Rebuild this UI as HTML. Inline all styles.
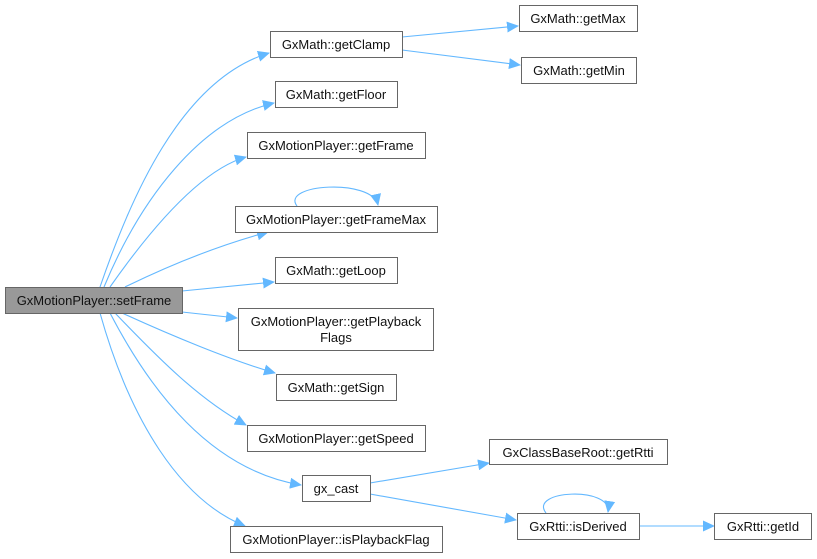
<!DOCTYPE html>
<html><head><meta charset="utf-8"><style>
html,body{margin:0;padding:0;background:#fff;width:817px;height:559px;overflow:hidden}
text{font-family:"Liberation Sans",sans-serif;font-size:13px;fill:#111}
</style></head><body>
<svg width="817" height="559" xmlns="http://www.w3.org/2000/svg">
<defs><marker id="a" markerWidth="12" markerHeight="11" refX="11" refY="5.5" orient="auto" markerUnits="userSpaceOnUse"><path d="M0,0 L12,5.5 L0,11 Z" fill="#63b8ff"/></marker></defs>
<g fill="none" stroke="#63b8ff" stroke-width="1.1" marker-end="url(#a)">
<path d="M100,287 C130,200 180,80 269,53"/>
<path d="M104,287 C140,200 200,120 274,103"/>
<path d="M110,287 C150,230 200,170 246,157"/>
<path d="M125,287 C170,265 220,245 268,232"/>
<path d="M182,291 L274,282"/>
<path d="M182,312 L237,318"/>
<path d="M122,313 C170,335 230,360 275,373"/>
<path d="M115,313 C160,360 200,400 246,425"/>
<path d="M110,313 C150,390 210,470 301,485"/>
<path d="M100,313 C130,420 180,500 245,526"/>
<path d="M402,37 L518,26"/>
<path d="M402,50 L520,65"/>
<path d="M370,483 L489,463"/>
<path d="M370,494 L516,520"/>
<path d="M640,526 L714,526"/>
<path d="M297,206 C280,184 372,178 378,205"/>
<path d="M546,513 C528,490 612,486 608,512"/>
</g>
<g fill="#fff" stroke="#666" stroke-width="1">
<rect x="5.5" y="287.5" width="177" height="26" fill="#999"/>
<rect x="270.5" y="31.5" width="132" height="26"/>
<rect x="275.5" y="81.5" width="122" height="26"/>
<rect x="247.5" y="132.5" width="178" height="26"/>
<rect x="235.5" y="206.5" width="202" height="26"/>
<rect x="275.5" y="257.5" width="122" height="26"/>
<rect x="238.5" y="308.5" width="195" height="42"/>
<rect x="276.5" y="374.5" width="120" height="26"/>
<rect x="247.5" y="425.5" width="178" height="26"/>
<rect x="302.5" y="475.5" width="68" height="26"/>
<rect x="230.5" y="526.5" width="212" height="26"/>
<rect x="519.5" y="5.5" width="118" height="26"/>
<rect x="521.5" y="57.5" width="115" height="26"/>
<rect x="489.5" y="439.5" width="178" height="25"/>
<rect x="517.5" y="513.5" width="122" height="26"/>
<rect x="714.5" y="513.5" width="97" height="26"/>
</g>
<g text-anchor="middle">
<text x="94" y="305">GxMotionPlayer::setFrame</text>
<text x="336" y="49">GxMath::getClamp</text>
<text x="336" y="99">GxMath::getFloor</text>
<text x="336" y="150">GxMotionPlayer::getFrame</text>
<text x="336" y="224">GxMotionPlayer::getFrameMax</text>
<text x="336" y="275">GxMath::getLoop</text>
<text x="336" y="326">GxMotionPlayer::getPlayback</text>
<text x="336" y="342">Flags</text>
<text x="336" y="392">GxMath::getSign</text>
<text x="336" y="443">GxMotionPlayer::getSpeed</text>
<text x="336" y="493">gx_cast</text>
<text x="336" y="544">GxMotionPlayer::isPlaybackFlag</text>
<text x="578" y="23">GxMath::getMax</text>
<text x="579" y="75">GxMath::getMin</text>
<text x="578" y="457">GxClassBaseRoot::getRtti</text>
<text x="578" y="531">GxRtti::isDerived</text>
<text x="763" y="531">GxRtti::getId</text>
</g>
</svg>
</body></html>
